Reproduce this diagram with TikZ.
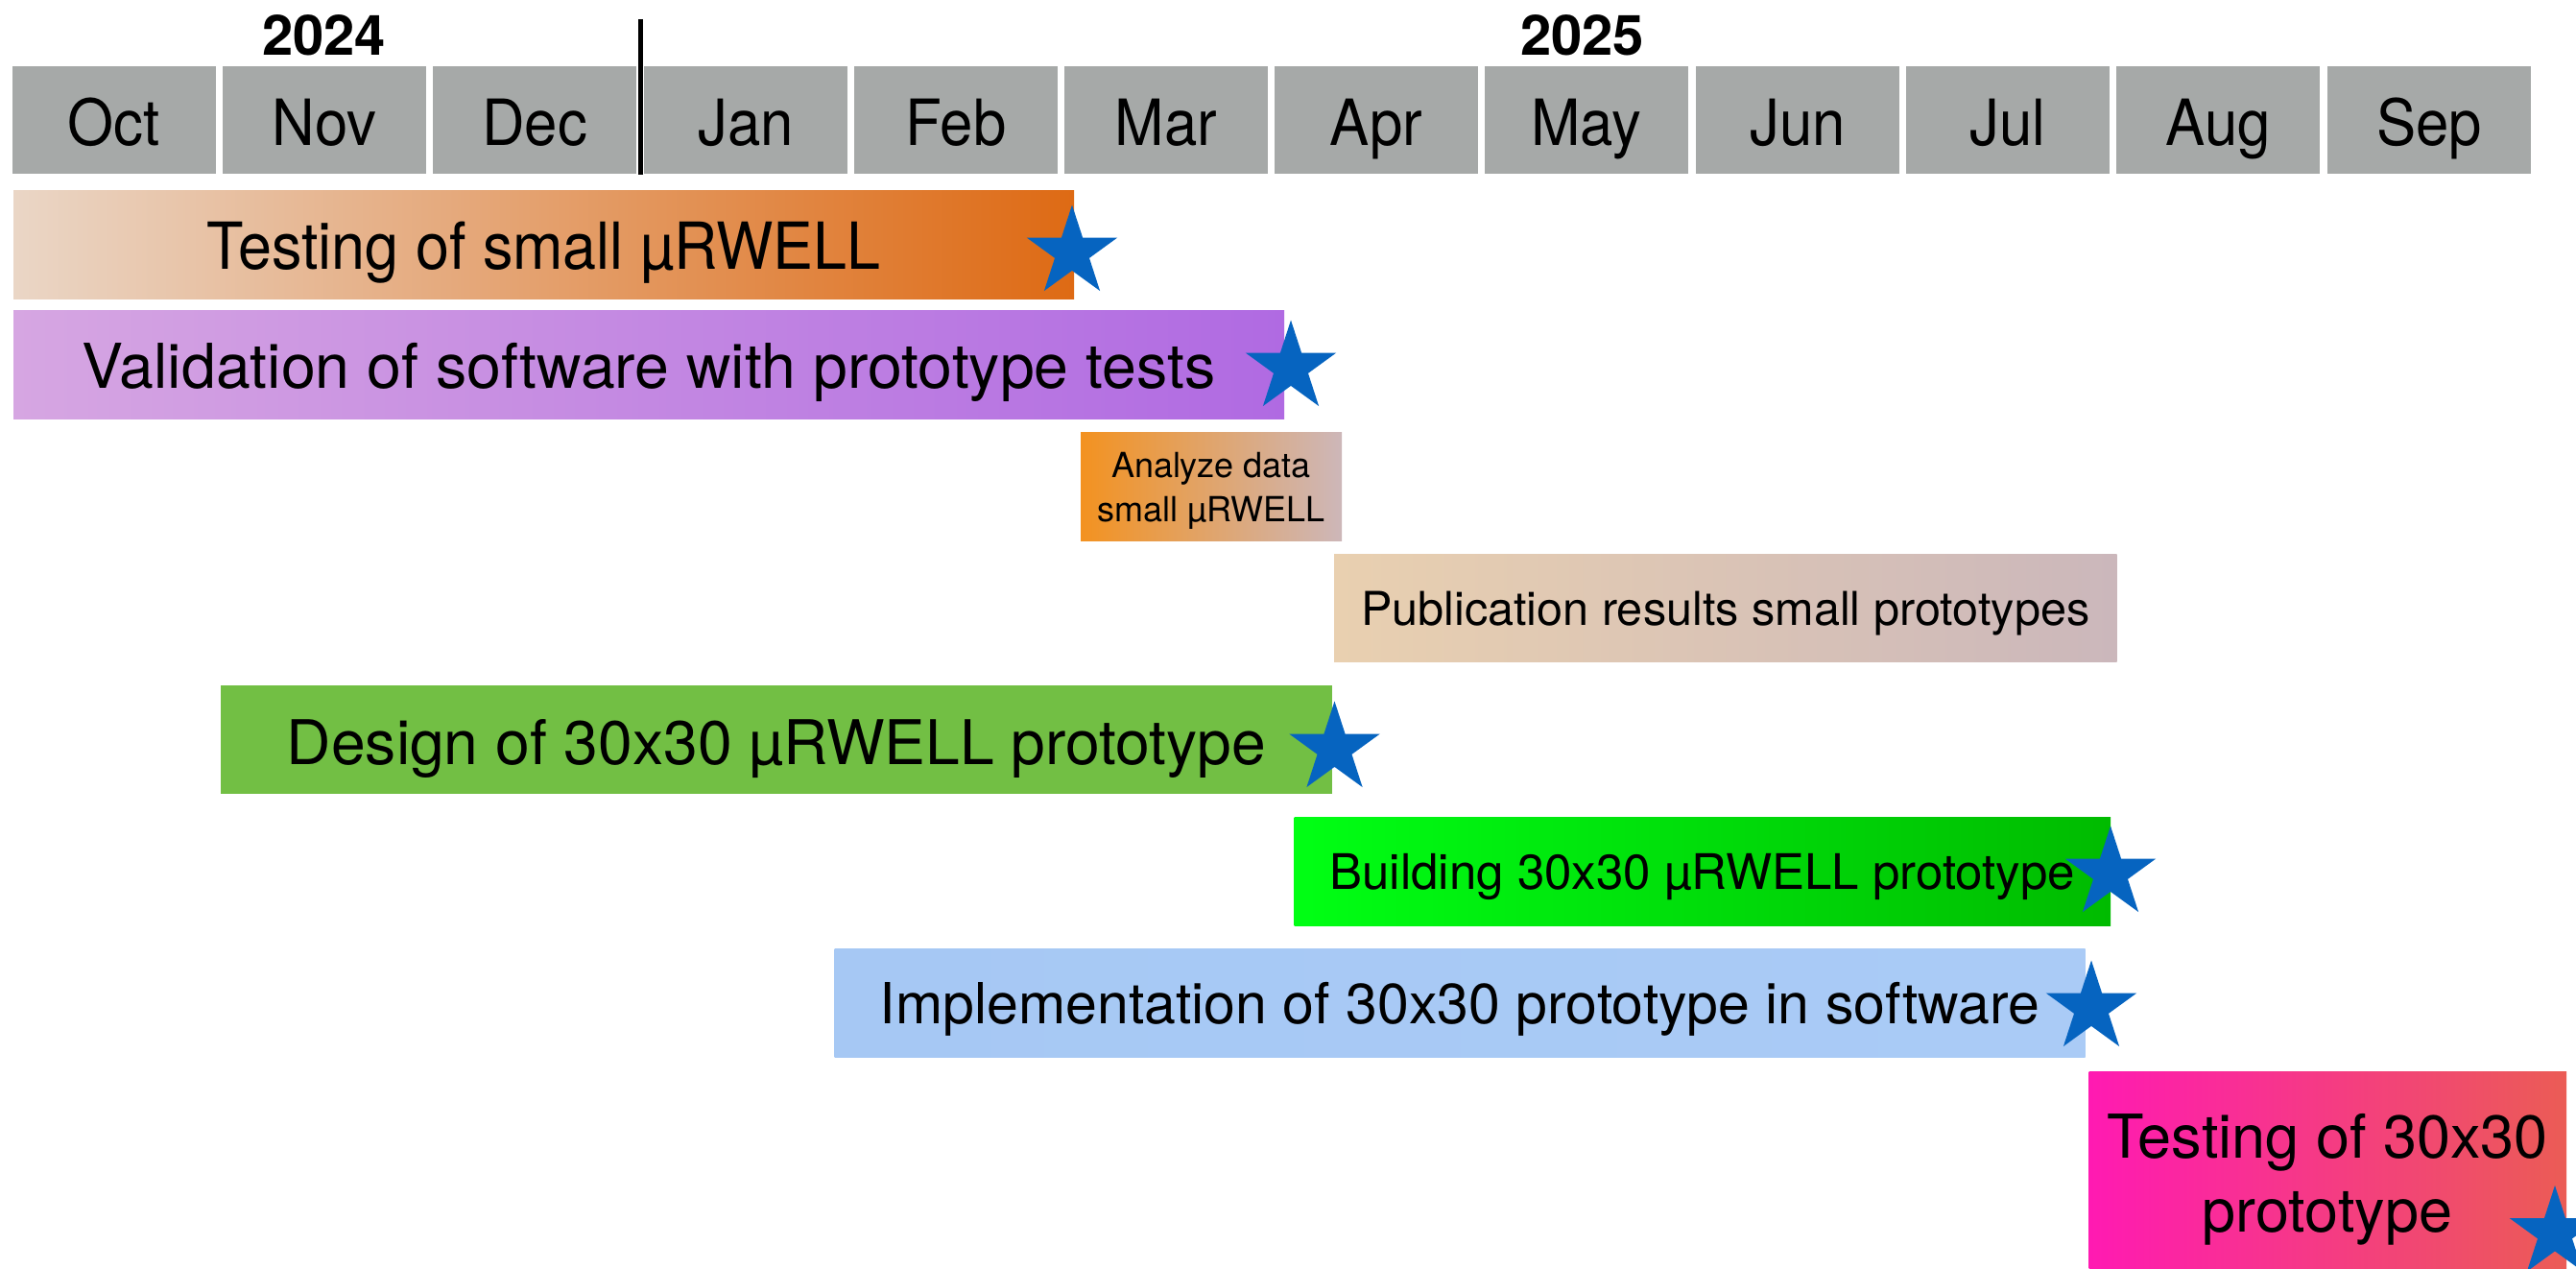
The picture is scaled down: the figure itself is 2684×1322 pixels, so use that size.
\documentclass[tikz,border=0pt]{standalone}
\usepackage{fontspec}
\setmainfont{TeX Gyre Heros}
\newfontfamily\condfont{TeX Gyre Heros}[FakeStretch=0.93]
\usetikzlibrary{shapes.geometric}
\definecolor{monthgrey}{RGB}{166,169,168}
\definecolor{starblue}{RGB}{6,100,192}
\definecolor{bAl}{RGB}{234,214,198}
\definecolor{bAr}{RGB}{222,106,20}
\definecolor{bBl}{RGB}{214,166,226}
\definecolor{bBr}{RGB}{176,106,226}
\definecolor{bCl}{RGB}{243,146,32}
\definecolor{bCr}{RGB}{205,183,185}
\definecolor{bDl}{RGB}{233,208,176}
\definecolor{bDr}{RGB}{203,183,187}
\definecolor{bE}{RGB}{114,191,68}
\definecolor{bFl}{RGB}{0,255,20}
\definecolor{bFr}{RGB}{0,187,0}
\definecolor{bGl}{RGB}{166,200,244}
\definecolor{bGr}{RGB}{170,203,246}
\definecolor{bHl}{RGB}{255,26,178}
\definecolor{bHr}{RGB}{235,92,85}
\tikzset{
  month/.style={fill=monthgrey, minimum width=106pt, minimum height=56pt,
    inner sep=0pt, outer sep=0pt, text height=26.7pt, text depth=0pt,
    font=\condfont\fontsize{33.2}{39}\selectfont},
  bar/.style={anchor=north west, minimum height=56.5pt, inner sep=0pt, outer sep=0pt},
  lbl/.style={anchor=base, inner sep=0pt},
  milestone/.style={star, star points=5, star point ratio=2.618,
    minimum size=49.5pt, inner sep=0pt, fill=starblue, draw=none},
  yearlbl/.style={anchor=base, inner sep=0pt, font=\fontsize{29}{34}\selectfont\bfseries}
}
\begin{document}
\begin{tikzpicture}[x=0.5pt,y=-0.5pt]
\useasboundingbox (0,0) rectangle (2684,1322);
\clip (0,0) rectangle (2684,1322);
\fill[white] (0,0) rectangle (2684,1322);

% year labels
\node[yearlbl] (y2024) at (337.6,58) {2024};
\node[yearlbl] (y2025) at (1648.6,58) {2025};

% months
\node[month] (oct) at (119,125) {Oct};
\node[month] (nov) at (338,125) {Nov};
\node[month] (dec) at (557,125) {Dec};
\node[month] (jan) at (777,125) {Jan};
\node[month] (feb) at (996,125) {Feb};
\node[month] (mar) at (1215,125) {Mar};
\node[month] (apr) at (1434,125) {Apr};
\node[month] (may) at (1653,125) {May};
\node[month] (jun) at (1873,125) {Jun};
\node[month] (jul) at (2092,125) {Jul};
\node[month] (aug) at (2311,125) {Aug};
\node[month] (sep) at (2531,125) {Sep};

% year divider
\coordinate (dtop) at (667,20);
\coordinate (dbot) at (667,182);
\draw[line width=2.5pt] (dtop) -- (dbot);

% bars
\node[bar, minimum width=552.5pt, left color=bAl, right color=bAr,
  text height=25.5pt, text depth=0pt, font=\condfont\fontsize{33.8}{40}\selectfont]
  (b1) at (14,198) {Testing of small µRWELL};
\node[bar, minimum width=662pt, left color=bBl, right color=bBr,
  text height=24.5pt, text depth=0pt, font=\fontsize{32.2}{38}\selectfont]
  (b2) at (14,323) {Validation of software with prototype tests};
\node[bar, minimum width=136pt, left color=bCl, right color=bCr] (b3) at (1126,450) {};
\node[lbl, font=\fontsize{18}{23}\selectfont] (t3a) at (1262,497) {Analyze data};
\node[lbl, font=\fontsize{18}{23}\selectfont] (t3b) at (1262,543) {small µRWELL};
\node[bar, minimum width=407.75pt, minimum height=56pt, left color=bDl, right color=bDr,
  text height=18.7pt, text depth=0pt, font=\fontsize{24.3}{29}\selectfont]
  (b4) at (1390,577) {Publication results small prototypes};
\node[bar, minimum width=579pt, fill=bE,
  text height=26.2pt, text depth=0pt, font=\fontsize{32.1}{38}\selectfont]
  (b5) at (230,714) {Design of 30x30 µRWELL prototype};
\node[bar, minimum width=425.25pt, left color=bFl, right color=bFr,
  text height=19.2pt, text depth=0pt, font=\fontsize{25.5}{30}\selectfont]
  (b6) at (1348.5,851) {Building 30x30 µRWELL prototype};
\node[bar, minimum width=651.5pt, left color=bGl, right color=bGr,
  text height=22.2pt, text depth=0pt, font=\fontsize{29.5}{35}\selectfont]
  (b7) at (869.5,988) {Implementation of 30x30 prototype in software};
\node[bar, minimum width=248.7pt, minimum height=112pt, left color=bHl, right color=bHr]
  (b8) at (2176.6,1116) {};
\node[lbl, font=\fontsize{31.5}{38}\selectfont] (t8a) at (2425,1206.7) {Testing of 30x30};
\node[lbl, font=\fontsize{31.5}{38}\selectfont] (t8b) at (2425,1283) {prototype};

% milestones
\node[milestone] (s1) at (1117,263) {};
\node[milestone] (s2) at (1345,383) {};
\node[milestone] (s5) at (1390.5,780) {};
\node[milestone] (s6) at (2199,910) {};
\node[milestone] (s7) at (2179,1050) {};
\node[milestone] (s8) at (2662,1284.5) {};
\end{tikzpicture}
\end{document}
